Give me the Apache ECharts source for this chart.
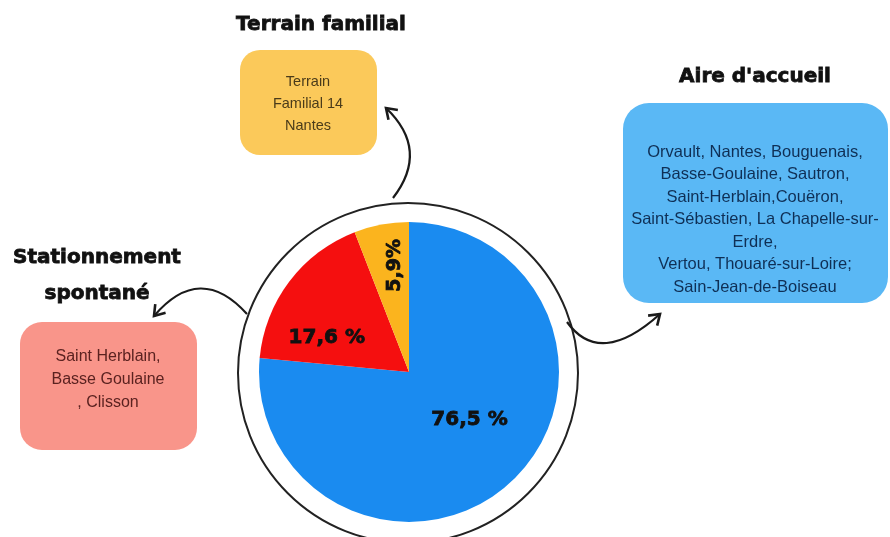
<!DOCTYPE html>
<html>
<head>
<meta charset="utf-8">
<script src="https://cdn.jsdelivr.net/npm/echarts@6/dist/echarts.min.js"></script>
<style>
html,body{margin:0;padding:0;background:#fff;}
#chart{width:890px;height:537px;}
</style>
</head>
<body>
<div id="chart"></div>
<script>
// ---- data ----
var categories = ["Aire d'accueil", "Stationnement spontané", "Terrain familial"];
var values = [76.5, 17.6, 5.9];
var valueLabels = ["76,5 %", "17,6 %", "5,9%"];
var sliceColors = ["#1a8bf0", "#f50f0f", "#fbb41e"];
var boxTitles = ["Aire d'accueil", "Stationnement\nspontané", "Terrain familial"];
var boxLinesAire = ["Orvault, Nantes, Bouguenais,", "Basse-Goulaine, Sautron,", "Saint-Herblain,Couëron,", "Saint-Sébastien, La Chapelle-sur-", "Erdre,", "Vertou, Thouaré-sur-Loire;", "Sain-Jean-de-Boiseau"];
var boxLinesStat = ["Saint Herblain,", "Basse Goulaine", ", Clisson"];
var boxLinesTerrain = ["Terrain", "Familial 14", "Nantes"];

var chart = echarts.init(document.getElementById('chart'), null, {renderer: 'canvas'});

var titleFont = 'bold 20px "DejaVu Sans", sans-serif';
function bodyFont(sz) { return sz + 'px "Liberation Sans Narrow", "Liberation Sans", sans-serif'; }

function arrow(x1, y1, cx, cy, x2, y2) {
  var dx = x2 - cx, dy = y2 - cy;
  var a = Math.atan2(dy, dx);
  var L = 12, s = 0.6;
  var p1 = [x2 - L * Math.cos(a - s), y2 - L * Math.sin(a - s)];
  var p2 = [x2 - L * Math.cos(a + s), y2 - L * Math.sin(a + s)];
  return [
    {type: 'bezierCurve', shape: {x1: x1, y1: y1, x2: x2, y2: y2, cpx1: cx, cpy1: cy},
     style: {stroke: '#1a1a1a', lineWidth: 2.2, fill: null}, z: 5},
    {type: 'polyline', shape: {points: [p1, [x2, y2], p2]},
     style: {stroke: '#1a1a1a', lineWidth: 2.6, fill: null, lineJoin: 'miter'}, z: 5}
  ];
}

function textBlock(lines, cx, y0, lh, color, sz) {
  return lines.map(function (t, i) {
    return {type: 'text', z: 6, style: {text: t, x: cx, y: y0 + i * lh, textAlign: 'center', textVerticalAlign: 'middle', font: bodyFont(sz), fill: color}};
  });
}

function title(t, x, y) {
  return {type: 'text', z: 6, style: {text: t, x: x, y: y, textAlign: 'center', textVerticalAlign: 'middle', font: titleFont, fill: '#111', stroke: '#111', lineWidth: 0.8, lineHeight: 36}};
}

var graphics = [];
// ring around pie
graphics.push({type: 'circle', shape: {cx: 408, cy: 373, r: 170}, style: {fill: '#fff', stroke: '#222', lineWidth: 2}, z: 0});
// boxes
graphics.push({type: 'rect', shape: {x: 240, y: 50, width: 137, height: 105, r: 20}, style: {fill: '#fbc95a'}, z: 1});
graphics.push({type: 'rect', shape: {x: 20, y: 322, width: 177, height: 128, r: 22}, style: {fill: '#f9958a'}, z: 1});
graphics.push({type: 'rect', shape: {x: 623, y: 103, width: 265, height: 200, r: 26}, style: {fill: '#5ab8f5'}, z: 1});
// titles
graphics.push(title(boxTitles[2], 321, 25));
graphics.push(title(boxTitles[0], 755, 77));
graphics.push(title(boxTitles[1], 97, 276));
// box texts
graphics = graphics.concat(textBlock(boxLinesTerrain, 308, 82, 22, '#4a3b1a', 14.5));
graphics = graphics.concat(textBlock(boxLinesStat, 108, 357, 23, '#5b2220', 16));
graphics = graphics.concat(textBlock(boxLinesAire, 755, 152, 22.5, '#0f2f55', 16.5));
// arrows
graphics = graphics.concat(arrow(393, 198, 430, 150, 386, 108));
graphics = graphics.concat(arrow(247, 314, 200, 262, 154, 316));
graphics = graphics.concat(arrow(567, 322, 600, 368, 660, 314));

var labelOffsets = [[8, -10], [-20, 13], [30, 0]];

var option = {
  backgroundColor: '#ffffff',
  animation: false,
  graphic: {elements: graphics},
  series: [{
    type: 'pie',
    z: 3,
    center: [409, 372],
    radius: [0, 150],
    startAngle: 90,
    clockwise: true,
    silent: true,
    label: {
      show: true,
      position: 'inside',
      color: '#111',
      fontSize: 20,
      fontWeight: 'bold',
      fontFamily: '"DejaVu Sans", sans-serif',
      textBorderColor: '#111',
      textBorderWidth: 0.8,
      formatter: function (p) { return valueLabels[p.dataIndex]; }
    },
    labelLine: {show: false},
    labelLayout: function (p) {
      var o = labelOffsets[p.dataIndex];
      return {dx: o[0], dy: o[1]};
    },
    data: categories.map(function (c, i) {
      var d = {name: c, value: values[i], itemStyle: {color: sliceColors[i]}};
      if (i === 2) d.label = {rotate: 90, fontSize: 19};
      return d;
    })
  }]
};
chart.setOption(option);
</script>
</body>
</html>
